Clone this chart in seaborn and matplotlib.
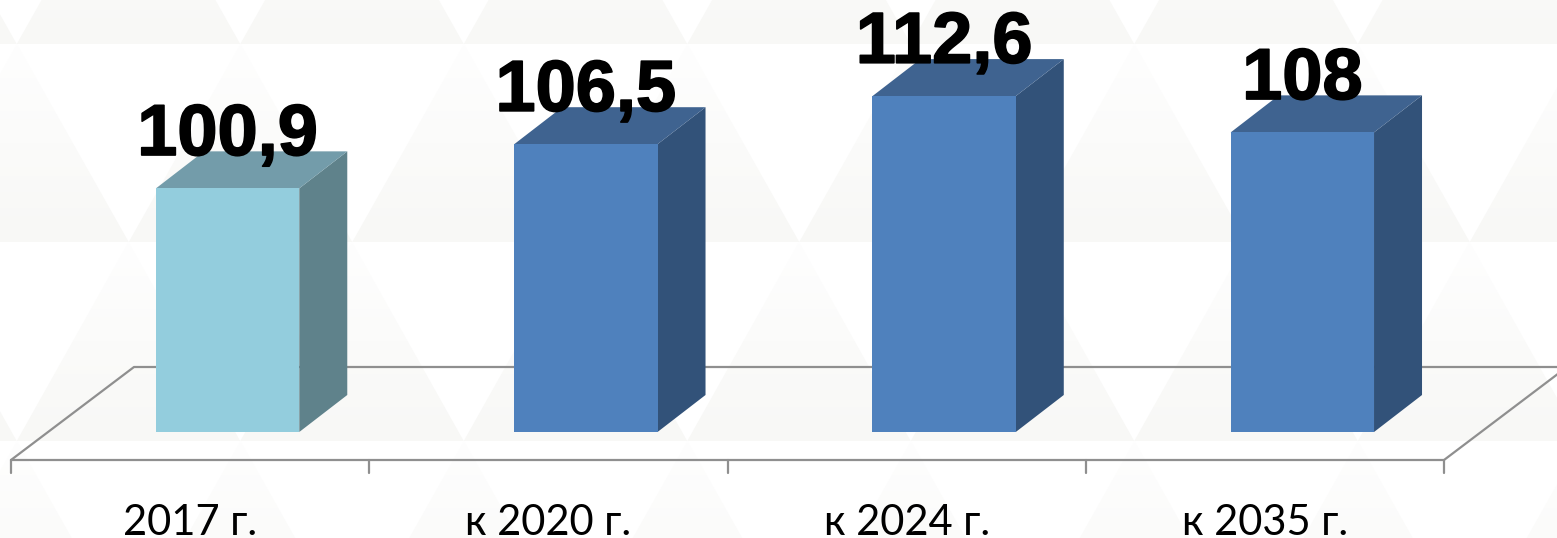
import matplotlib

matplotlib.use("Agg")

import matplotlib.patheffects as pe
import matplotlib.pyplot as plt
import numpy as np
import pandas as pd
import seaborn as sns
from matplotlib.colors import LinearSegmentedColormap
from matplotlib.patches import Polygon

# ---------------------------------------------------------
# Data
# ---------------------------------------------------------

categories = ["2017 г.", "к 2020 г.", "к 2024 г.", "к 2035 г."]
values = [100.9, 106.5, 112.6, 108]
value_labels = ["100,9", "106,5", "112,6", "108"]

front_colors = ["#93CDDD", "#4F81BD", "#4F81BD", "#4F81BD"]
side_colors = ["#5F828B", "#325279", "#325279", "#325279"]
top_colors = ["#739CAA", "#3F6390", "#3F6390", "#3F6390"]

df = pd.DataFrame({"category": categories, "value": values})

# ---------------------------------------------------------
# Figure and patterned background
# ---------------------------------------------------------

W, H = 1557, 538
Y_MIN, Y_MAX = 70, 120
PX_PER_UNIT = 7.885
PX_PER_CAT = 358.25

sns.set_theme(style="white")

fig = plt.figure(figsize=(W / 100, H / 100), dpi=100, facecolor="white")

bg = fig.add_axes([0, 0, 1, 1], zorder=0)

step = 223.5
half = step / 2
rows = [(-154, 44, 128.5), (44, 242, 17), (242, 441, 128.5), (441, 639, 17)]

# triangles fade out towards their apex
fade = LinearSegmentedColormap.from_list("fade", ["#FEFEFE", "#F8F8F6"])
gradient = np.linspace(0, 1, 64).reshape(-1, 1)

for top, bottom, start in rows:
    for n in range(-1, 9):
        apex = start + n * step
        img = bg.imshow(
            gradient,
            cmap=fade,
            extent=(apex - half, apex + half, bottom, top),
            origin="upper",
            aspect="auto",
            interpolation="bilinear",
        )
        clip = Polygon(
            [(apex, top), (apex + half, bottom), (apex - half, bottom)],
            transform=bg.transData,
        )
        img.set_clip_path(clip)

bg.set_xlim(0, W)
bg.set_ylim(H, 0)
bg.axis("off")

# ---------------------------------------------------------
# Bars
# ---------------------------------------------------------

left_px = 48.5
bottom_px = 432
ax = fig.add_axes(
    [
        left_px / W,
        (H - bottom_px) / H,
        4 * PX_PER_CAT / W,
        (Y_MAX - Y_MIN) * PX_PER_UNIT / H,
    ],
    zorder=1,
)
ax.patch.set_alpha(0)

sns.barplot(
    data=df,
    x="category",
    y="value",
    hue="category",
    palette=front_colors,
    width=0.4,
    saturation=1,
    legend=False,
    linewidth=0,
    zorder=4,
    ax=ax,
)

ax.set_xlim(-0.5, 3.5)
ax.set_ylim(Y_MIN, Y_MAX)
ax.set_xticks([])
ax.set_yticks([])
ax.set_xlabel("")
ax.set_ylabel("")
sns.despine(ax=ax, left=True, bottom=True)

# depth of the bars and of the floor, in data units
bar_dx = 48 / PX_PER_CAT
bar_dy = 37 / PX_PER_UNIT
floor_dx = 123 / PX_PER_CAT
floor_dy = 93 / PX_PER_UNIT
shift_x = 37.5 / PX_PER_CAT
shift_y = 28 / PX_PER_UNIT

# Floor

floor_left = -0.5 - shift_x
floor_right = 3.5 - shift_x
floor_front = Y_MIN - shift_y
floor_back = floor_front + floor_dy
grey = "#8F8F8F"

ax.plot(
    [floor_left, floor_right, floor_right + floor_dx],
    [floor_front, floor_front, floor_back],
    color=grey,
    lw=1.6,
    clip_on=False,
    zorder=2,
)
ax.plot(
    [floor_left, floor_left + floor_dx, floor_right + floor_dx],
    [floor_front, floor_back, floor_back],
    color=grey,
    lw=1.6,
    clip_on=False,
    zorder=2,
)

for i in range(5):
    ax.plot(
        [floor_left + i, floor_left + i],
        [floor_front, floor_front - 13 / PX_PER_UNIT],
        color=grey,
        lw=1.6,
        clip_on=False,
        zorder=2,
    )

# Side and top faces

for bar, side, roof in zip(ax.patches, side_colors, top_colors):
    x1 = bar.get_x()
    x2 = x1 + bar.get_width()
    y2 = bar.get_height()

    ax.add_patch(
        Polygon(
            [(x2, Y_MIN), (x2 + bar_dx, Y_MIN + bar_dy), (x2 + bar_dx, y2 + bar_dy), (x2, y2)],
            facecolor=side,
            edgecolor="none",
            clip_on=False,
            zorder=3,
        )
    )
    ax.add_patch(
        Polygon(
            [(x1, y2), (x1 + bar_dx, y2 + bar_dy), (x2 + bar_dx, y2 + bar_dy), (x2, y2)],
            facecolor=roof,
            edgecolor="none",
            clip_on=False,
            zorder=3,
        )
    )

# ---------------------------------------------------------
# Labels
# ---------------------------------------------------------

for bar, text in zip(ax.patches, value_labels):
    ax.annotate(
        text,
        (bar.get_x() + bar.get_width() / 2, bar.get_height()),
        xytext=(0, 24),
        textcoords="offset points",
        ha="center",
        va="baseline",
        fontsize=52,
        fontweight="bold",
        family="Liberation Sans",
        color="black",
        path_effects=[pe.withStroke(linewidth=1.2, foreground="black")],
        annotation_clip=False,
        zorder=6,
    )

for i, name in enumerate(categories):
    ax.annotate(
        name,
        (i - shift_x, Y_MIN),
        xytext=(0, -74),
        textcoords="offset points",
        ha="center",
        va="baseline",
        fontsize=30,
        family="Lato",
        color="black",
        annotation_clip=False,
        zorder=6,
    )

plt.savefig("out.png", dpi=100)
plt.close()
